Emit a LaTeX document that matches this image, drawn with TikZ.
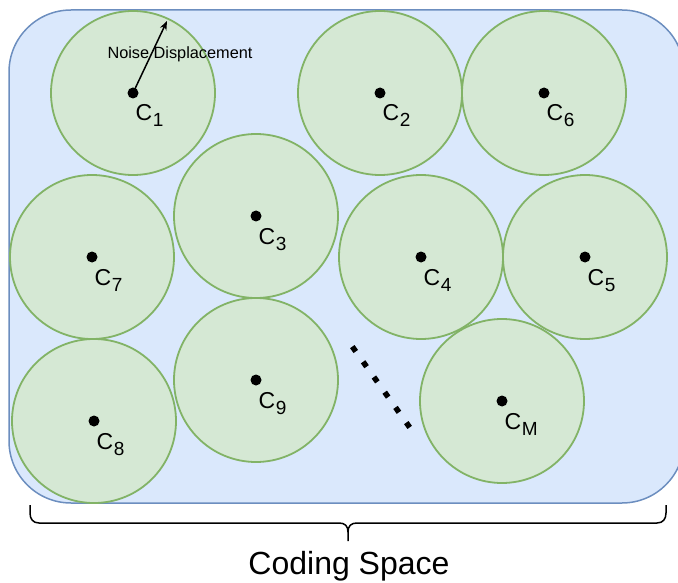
\documentclass[tikz,border=0pt]{standalone}
\usepackage{fontspec}
\setmainfont{Liberation Sans}
\usetikzlibrary{arrows.meta}
\definecolor{bfill}{HTML}{DAE8FC}
\definecolor{bdraw}{HTML}{6C8EBF}
\definecolor{gfill}{HTML}{D5E8D4}
\definecolor{gdraw}{HTML}{82B366}
\newcommand{\Csub}[1]{C\kern0.5pt\raisebox{-6pt}{\fontsize{19}{19}\selectfont #1}}
\tikzset{
  cluster/.style={circle, draw=gdraw, fill=gfill, line width=1.8pt, minimum size=164pt, inner sep=0pt},
  cdot/.style={circle, fill=black, minimum size=11pt, inner sep=0pt},
  lbl/.style={anchor=base west, inner sep=0pt, font=\fontsize{23}{23}\selectfont},
  space/.style={draw=bdraw, fill=bfill, line width=1.5pt, rounded corners=62pt},
}
\begin{document}
\begin{tikzpicture}[x=1pt,y=-1pt]
\useasboundingbox (0,0) rectangle (678,583);
\draw[space] (9,10) rectangle (684,503);
\foreach \n/\x/\y in {1/133/93, 2/380/93, 6/544/93, 3/256/216, 7/92/257, 4/421/257, 5/585/257, 8/94/421, 9/256/380, M/502/401}{
  \node[cluster] (c\n) at (\x,\y) {};
}
\foreach \n in {1,2,6,3,7,4,5,8,9,M}{
  \node[lbl] (l\n) at ([shift={(2.5,28)}]c\n.center) {\Csub{\n}};
}
\coordinate (tip) at (167,21);
\draw[line width=1.5pt, -{Stealth[length=9pt,width=7pt]}] (c1.center) -- (tip);
\foreach \n in {1,2,6,3,7,4,5,8,9,M}{
  \node[cdot] (d\n) at (c\n.center) {};
}
\node[anchor=base, inner sep=0pt, font=\fontsize{16.3}{16.3}\selectfont] (noise) at (180,59) {Noise Displacement};
\coordinate (dotsA) at (352.3,346.6);
\coordinate (dotsB) at (409.7,427.4);
\draw[line width=5.5pt, dash pattern=on 6pt off 12.65pt] (dotsA) -- (dotsB);
\draw[line width=1.5pt] (30,505) -- (30,513) .. controls (30,519) and (33,523) .. (39,523) -- (339,523) .. controls (345,523) and (348,526) .. (348,532) -- (348,541);
\draw[line width=1.5pt] (348,532) .. controls (348,526) and (351,523) .. (357,523) -- (657,523) .. controls (663,523) and (666,519) .. (666,513) -- (666,505);
\node[anchor=base, inner sep=0pt, font=\fontsize{32}{32}\selectfont] (coding) at (349,574) {Coding Space};
\end{tikzpicture}
\end{document}
